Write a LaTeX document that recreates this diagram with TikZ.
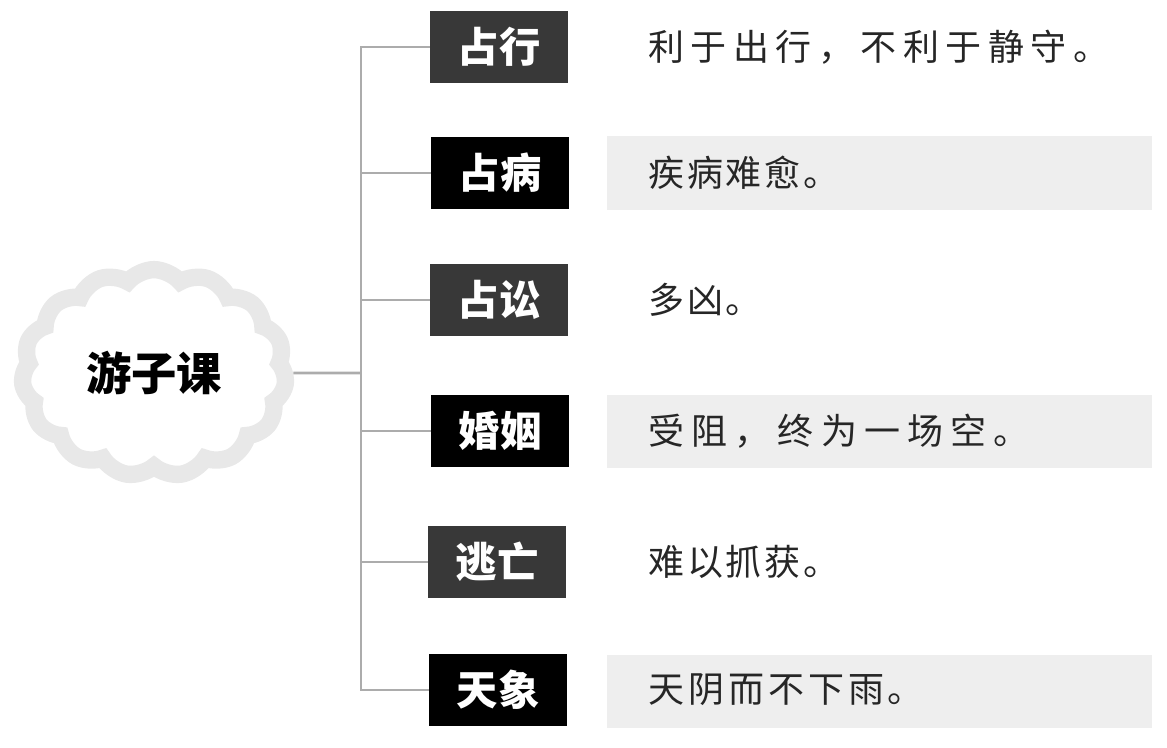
\documentclass[tikz,border=0pt]{standalone}
\usepackage{fontspec}
\usetikzlibrary{shapes.symbols}
\newfontfamily\cjk{Noto Sans CJK SC}
\begin{document}
\begin{tikzpicture}[x=0.75pt,y=-0.75pt,
  darkbox/.style={fill=black!78,text=white,font=\cjk\bfseries\fontsize{31pt}{31pt}\selectfont,
     minimum width=103.5pt,minimum height=54pt,inner sep=0pt},
  blackbox/.style={darkbox,fill=black},
  band/.style={fill=gray!13,draw=none},
  desc/.style={anchor=west,inner sep=0pt,font=\cjk\fontsize{27pt}{27pt}\selectfont,text=black!85},
  conn/.style={draw=gray!65,line width=2.2pt}]
\useasboundingbox (0,0) rectangle (1167,747);
% background bands
\fill[band] (607,136) rectangle (1152,210);
\fill[band] (607,395) rectangle (1152,468);
\fill[band] (607,655) rectangle (1152,728);
% cloud
\node[cloud,cloud puffs=15,cloud puff arc=100,draw=gray!18,line width=13pt,fill=white,
  minimum width=198pt,minimum height=126pt,inner sep=0pt,
  font=\cjk\bfseries\fontsize{34pt}{34pt}\selectfont] (root) at (154,373) {游子课};
% boxes
\node[darkbox]  (b1) at (499,47)  {占行};
\node[blackbox] (b2) at (500,173) {占病};
\node[darkbox]  (b3) at (499,300) {占讼};
\node[blackbox] (b4) at (500,431) {婚姻};
\node[darkbox]  (b5) at (497,562) {逃亡};
\node[blackbox] (b6) at (498,690) {天象};
% descriptions
\node[desc] (d1) at (648,47)  {\addfontfeature{LetterSpace=18}利于出行，不利于静守。};
\node[desc] (d2) at (648,173) {\addfontfeature{LetterSpace=8}疾病难愈。};
\node[desc] (d3) at (648,300) {\addfontfeature{LetterSpace=8}多凶。};
\node[desc] (d4) at (648,431) {\addfontfeature{LetterSpace=20}受阻，终为一场空。};
\node[desc] (d5) at (648,562) {\addfontfeature{LetterSpace=8}难以抓获。};
\node[desc] (d6) at (648,690) {\addfontfeature{LetterSpace=11}天阴而不下雨。};
% connectors
\coordinate (j) at (361,373);
\draw[conn] (root.east) -- (j);
\foreach \b in {b1,b2,b3,b4,b5,b6} \draw[conn] (j) |- (\b.west);
\end{tikzpicture}
\end{document}
